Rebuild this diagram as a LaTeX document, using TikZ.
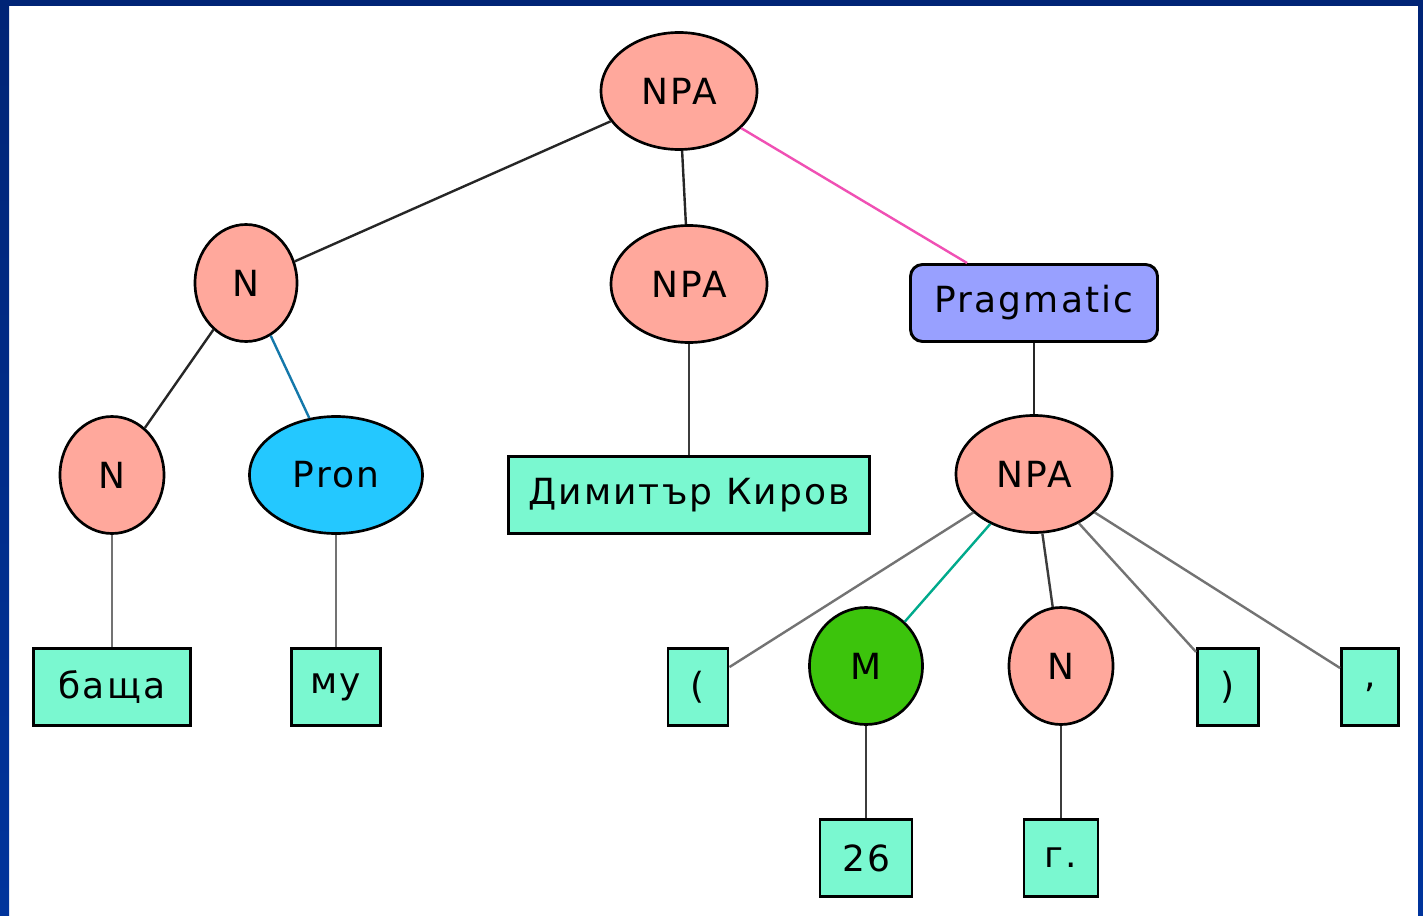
\documentclass[tikz,border=0pt]{standalone}
\usepackage{fontspec}
\setmainfont{DejaVu Sans}
\definecolor{framedark}{RGB}{0,36,118}
\definecolor{frameblue}{RGB}{0,52,156}
\definecolor{phrase}{RGB}{255,168,156}
\definecolor{pronoun}{RGB}{36,200,255}
\definecolor{numeral}{RGB}{60,196,12}
\definecolor{pragm}{RGB}{152,160,255}
\definecolor{word}{RGB}{122,248,208}
\definecolor{linkpink}{RGB}{240,80,180}
\definecolor{linkblue}{RGB}{20,120,170}
\definecolor{linkteal}{RGB}{0,170,140}
\definecolor{linkgray}{RGB}{115,115,115}
\definecolor{linkdark}{RGB}{60,60,60}
\tikzset{
  tag/.style={ellipse, draw=black, line width=2pt, fill=phrase, inner sep=0pt,
    minimum height=87.75pt},
  leaf/.style={rectangle, draw=black, line width=2.2pt, fill=word, inner sep=0pt,
    minimum height=57.75pt},
  link/.style={line width=1.8pt, black!85}
}
\usetikzlibrary{shapes.geometric}
\begin{document}
\begin{tikzpicture}[x=0.75pt, y=-0.75pt, font=\fontsize{27}{30}\selectfont\addfontfeatures{LetterSpace=6}]
\useasboundingbox (0,0) rectangle (1423,916);
\fill[white] (0,0) rectangle (1423,916);
\shade[top color=framedark, bottom color=frameblue] (0,0) rectangle (9,916);
\shade[top color=framedark, bottom color=frameblue] (1418,0) rectangle (1423,916);
\fill[framedark] (0,0) rectangle (1423,6);

% phrase level
\node[tag, minimum width=117pt] (npa) at (679,91) {NPA};
\node[tag, minimum width=76.5pt] (n1) at (246,283) {N};
\node[tag, minimum width=117pt] (npa2) at (689,284) {NPA};
\node[rectangle, rounded corners=9pt, draw=black, line width=2.2pt, fill=pragm,
  minimum width=185.25pt, minimum height=57.75pt] (prag) at (1034,303) {Pragmatic};
\node[tag, minimum width=78pt] (n2) at (112,475) {N};
\node[tag, fill=pronoun, minimum width=129.75pt] (pron) at (336,475) {Pron};
\node[tag, minimum width=117pt] (npa3) at (1034,474) {NPA};
\node[tag, fill=numeral, minimum width=84.75pt] (num) at (866,666) {M};
\node[tag, minimum width=78pt] (n3) at (1061,666) {N};

% words
\node[leaf, minimum width=270.75pt] (name) at (689,495) {Димитър Киров};
\node[leaf, minimum width=117.75pt] (w1) at (112,687) {баща};
\node[leaf, minimum width=66.75pt] (w2) at (336,687) {му};
\node[leaf, minimum width=45pt] (lpar) at (698,687) {(};
\node[leaf, minimum width=45.75pt] (rpar) at (1228,687) {)};
\node[leaf, minimum width=42.75pt] (comma) at (1370,687) {,};
\node[leaf, minimum width=69pt] (w26) at (866,858) {26};
\node[leaf, minimum width=55.5pt] (year) at (1061,858) {г.};

\draw[link] (npa) -- (n1);
\draw[link] (npa) -- (npa2);
\draw[link, linkpink] (npa) -- (prag);
\draw[link] (n1) -- (n2);
\draw[link, linkblue] (n1) -- (pron);
\draw[link, linkgray] (n2) -- (w1);
\draw[link, linkgray] (pron) -- (w2);
\draw[link, linkdark] (npa2) -- (name);
\draw[link] (prag) -- (npa3);
\draw[link, linkgray] (npa3) -- (lpar);
\draw[link, linkteal] (npa3) -- (num);
\draw[link, linkdark] (npa3) -- (n3);
\draw[link, linkgray] (npa3) -- (rpar);
\draw[link, linkgray] (npa3) -- (comma);
\draw[link, linkdark] (num) -- (w26);
\draw[link, linkdark] (n3) -- (year);
\end{tikzpicture}
\end{document}
